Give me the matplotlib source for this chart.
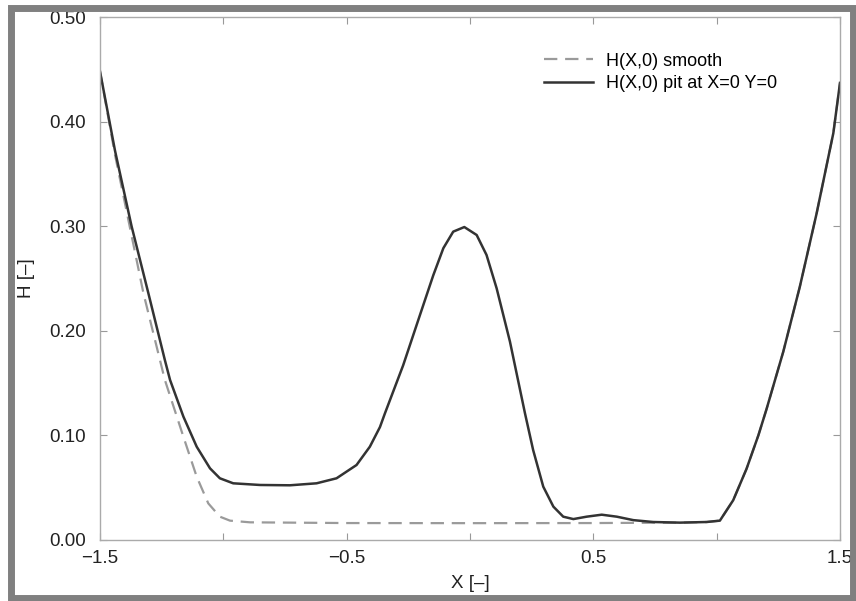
import matplotlib
matplotlib.use("Agg")
import matplotlib.pyplot as plt
from matplotlib.patches import Rectangle

plt.rcParams['font.family'] = ['Liberation Sans', 'DejaVu Sans']

# H(X,0) with the pit at X=0 Y=0
x_pit = [-1.5, -1.439, -1.372, -1.304, -1.237, -1.216, -1.162, -1.108, -1.054,
         -1.014, -0.960, -0.851, -0.730, -0.622, -0.541, -0.460, -0.406,
         -0.365, -0.345, -0.271, -0.203, -0.149, -0.108, -0.068, -0.023,
         0.027, 0.067, 0.108, 0.162, 0.223, 0.256, 0.297, 0.338, 0.378,
         0.419, 0.473, 0.534, 0.595, 0.662, 0.743, 0.851, 0.959, 1.013,
         1.067, 1.121, 1.169, 1.202, 1.270, 1.337, 1.405, 1.473, 1.5]
h_pit = [0.448, 0.372, 0.300, 0.236, 0.172, 0.153, 0.118, 0.0892, 0.0685,
         0.059, 0.0542, 0.0526, 0.0523, 0.0542, 0.059, 0.0717, 0.0892,
         0.108, 0.121, 0.167, 0.215, 0.253, 0.279, 0.2948, 0.2992,
         0.2916, 0.2725, 0.2406, 0.1896, 0.121, 0.086, 0.051, 0.0319, 0.0223,
         0.020, 0.0223, 0.0242, 0.0223, 0.019, 0.0172, 0.0166, 0.0172, 0.0185,
         0.038, 0.068, 0.100, 0.125, 0.180, 0.242, 0.312, 0.389, 0.437]

# H(X,0) smooth
x_smooth = [-1.5, -1.439, -1.324, -1.237, -1.162, -1.108, -1.061, -1.014,
            -0.973, -0.892, -0.5, 0.0, 0.5, 0.743, 0.851, 0.959, 1.013,
            1.067, 1.121, 1.169, 1.202, 1.270, 1.337, 1.405, 1.473, 1.5]
h_smooth = [0.448, 0.368, 0.236, 0.153, 0.0988, 0.0605, 0.035, 0.0223,
            0.0185, 0.0169, 0.0162, 0.0161, 0.0162, 0.0165, 0.0166, 0.0172,
            0.0185, 0.038, 0.068, 0.100, 0.125, 0.180, 0.242, 0.312, 0.389,
            0.437]

fig = plt.figure(figsize=(8.56, 6.01), dpi=100)
ax = fig.add_axes([100 / 856, 1 - 540 / 601, 740 / 856, 523 / 601])

ax.plot(x_smooth, h_smooth, color='#9a9a9a', lw=1.6, ls=(0, (6, 3.5)),
        label='H(X,0) smooth')
ax.plot(x_pit, h_pit, color='#333333', lw=1.8, solid_joinstyle='round',
        label='H(X,0) pit at X=0 Y=0')

ax.set_xlim(-1.5, 1.5)
ax.set_ylim(0, 0.5)
ax.set_xticks([-1.5, -1.0, -0.5, 0.0, 0.5, 1.0, 1.5])
ax.set_xticklabels(['\u22121.5', '', '\u22120.5', '', '0.5', '', '1.5'])
ax.set_yticks([0, 0.1, 0.2, 0.3, 0.4, 0.5])
ax.set_yticklabels(['0.00', '0.10', '0.20', '0.30', '0.40', '0.50'])
ax.tick_params(direction='in', length=5, color='#999999', labelsize=13.5,
               top=True, right=True, labelcolor='#222222')
ax.tick_params(axis='y', pad=10)
ax.tick_params(axis='x', pad=7)
for s in ax.spines.values():
    s.set_color('#aaaaaa')
    s.set_linewidth(1.0)

ax.set_xlabel('X [\u2013]', fontsize=13.5, labelpad=6, color='#222222')
ax.set_ylabel('H [\u2013]', fontsize=13.5, labelpad=10, color='#222222')

ax.legend(loc='upper left', bbox_to_anchor=(0.588, 0.949), frameon=False,
          fontsize=13, handlelength=2.7, handletextpad=0.75, labelspacing=0.32,
          borderpad=0)

# grey frame round the picture
fig.patches.append(Rectangle((11 / 856, 3 / 601), 842 / 856, 590 / 601,
                             transform=fig.transFigure, fill=False,
                             edgecolor='#808080', lw=5))

fig.savefig('out.png', dpi=100)
